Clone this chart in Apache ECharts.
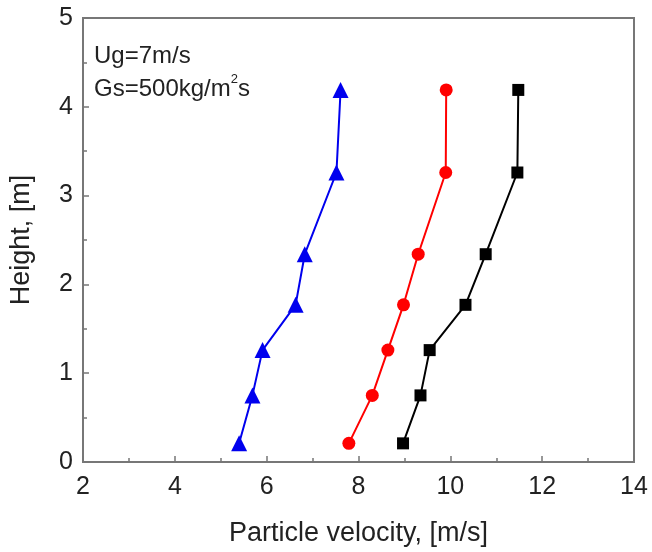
<!DOCTYPE html>
<html>
<head>
<meta charset="utf-8">
<script src="https://cdn.jsdelivr.net/npm/echarts@6/dist/echarts.min.js"></script>
<style>
  html, body { margin: 0; padding: 0; background: #fff; }
  #chart { width: 652px; height: 552px; }
</style>
</head>
<body>
<div id="chart"></div>
<script>
// Measurement heights along the riser [m]
const heights = [0.21, 0.75, 1.26, 1.77, 2.34, 3.26, 4.19];
// Particle velocity profiles [m/s]
const blueVelocity = [5.40, 5.69, 5.91, 6.63, 6.83, 7.52, 7.61];
const redVelocity = [7.79, 8.30, 8.64, 8.98, 9.30, 9.90, 9.91];
const blackVelocity = [8.97, 9.35, 9.55, 10.33, 10.77, 11.46, 11.48];

const xTicks = [2, 4, 6, 8, 10, 12, 14];
const yTicks = [0, 1, 2, 3, 4, 5];

const FONT = 'Liberation Sans, Arial, sans-serif';

function pairs(xs) {
  return xs.map((v, i) => [v, heights[i]]);
}

function profile(xs, color, symbol, size) {
  return {
    type: 'line',
    data: pairs(xs),
    smooth: false,
    symbol: symbol,
    symbolSize: size,
    showAllSymbol: true,
    lineStyle: { color: color, width: 2 },
    itemStyle: { color: color },
    z: 3
  };
}

const chart = echarts.init(document.getElementById('chart'), null, { renderer: 'canvas' });

chart.setOption({
  animation: false,
  backgroundColor: '#fff',
  grid: {
    left: 82, right: 18, top: 18, bottom: 89,
    show: true,
    borderColor: '#777',
    borderWidth: 2,
    backgroundColor: 'transparent'
  },
  xAxis: {
    type: 'value',
    min: xTicks[0],
    max: xTicks[xTicks.length - 1],
    interval: 2,
    name: 'Particle velocity, [m/s]',
    nameLocation: 'middle',
    nameGap: 58,
    nameTextStyle: { fontFamily: FONT, fontSize: 27, color: '#222' },
    axisLine: { show: true, onZero: false, lineStyle: { color: '#777', width: 2 } },
    axisTick: { show: true, inside: true, length: 6, lineStyle: { color: '#777', width: 1.5 } },
    minorTick: { show: true, splitNumber: 2, length: 4, lineStyle: { color: '#777', width: 1.5 } },
    splitLine: { show: false },
    axisLabel: { fontFamily: FONT, fontSize: 25, color: '#222', margin: 13 }
  },
  yAxis: {
    type: 'value',
    min: yTicks[0],
    max: yTicks[yTicks.length - 1],
    interval: 1,
    name: 'Height, [m]',
    nameLocation: 'middle',
    nameGap: 48,
    nameTextStyle: { fontFamily: FONT, fontSize: 27, color: '#222' },
    axisLine: { show: true, onZero: false, lineStyle: { color: '#777', width: 2 } },
    axisTick: { show: true, inside: true, length: 6, lineStyle: { color: '#777', width: 1.5 } },
    minorTick: { show: true, splitNumber: 2, length: 4, lineStyle: { color: '#777', width: 1.5 } },
    splitLine: { show: false },
    axisLabel: { fontFamily: FONT, fontSize: 25, color: '#222', margin: 10 }
  },
  graphic: [
    {
      type: 'text',
      left: 94,
      top: 40,
      style: {
        text: 'Ug=7m/s\nGs=500kg/m{sup|2}s',
        fontFamily: FONT,
        fontSize: 24,
        lineHeight: 33,
        fill: '#222',
        rich: {
          sup: { fontSize: 13, verticalAlign: 'top', lineHeight: 33, padding: [0, 0, 10, 0] }
        }
      }
    }
  ],
  series: [
    profile(blueVelocity, '#0000ee', 'triangle', 16),
    profile(redVelocity, '#ff0000', 'circle', 13),
    profile(blackVelocity, '#000000', 'rect', 12)
  ]
});
</script>
</body>
</html>
